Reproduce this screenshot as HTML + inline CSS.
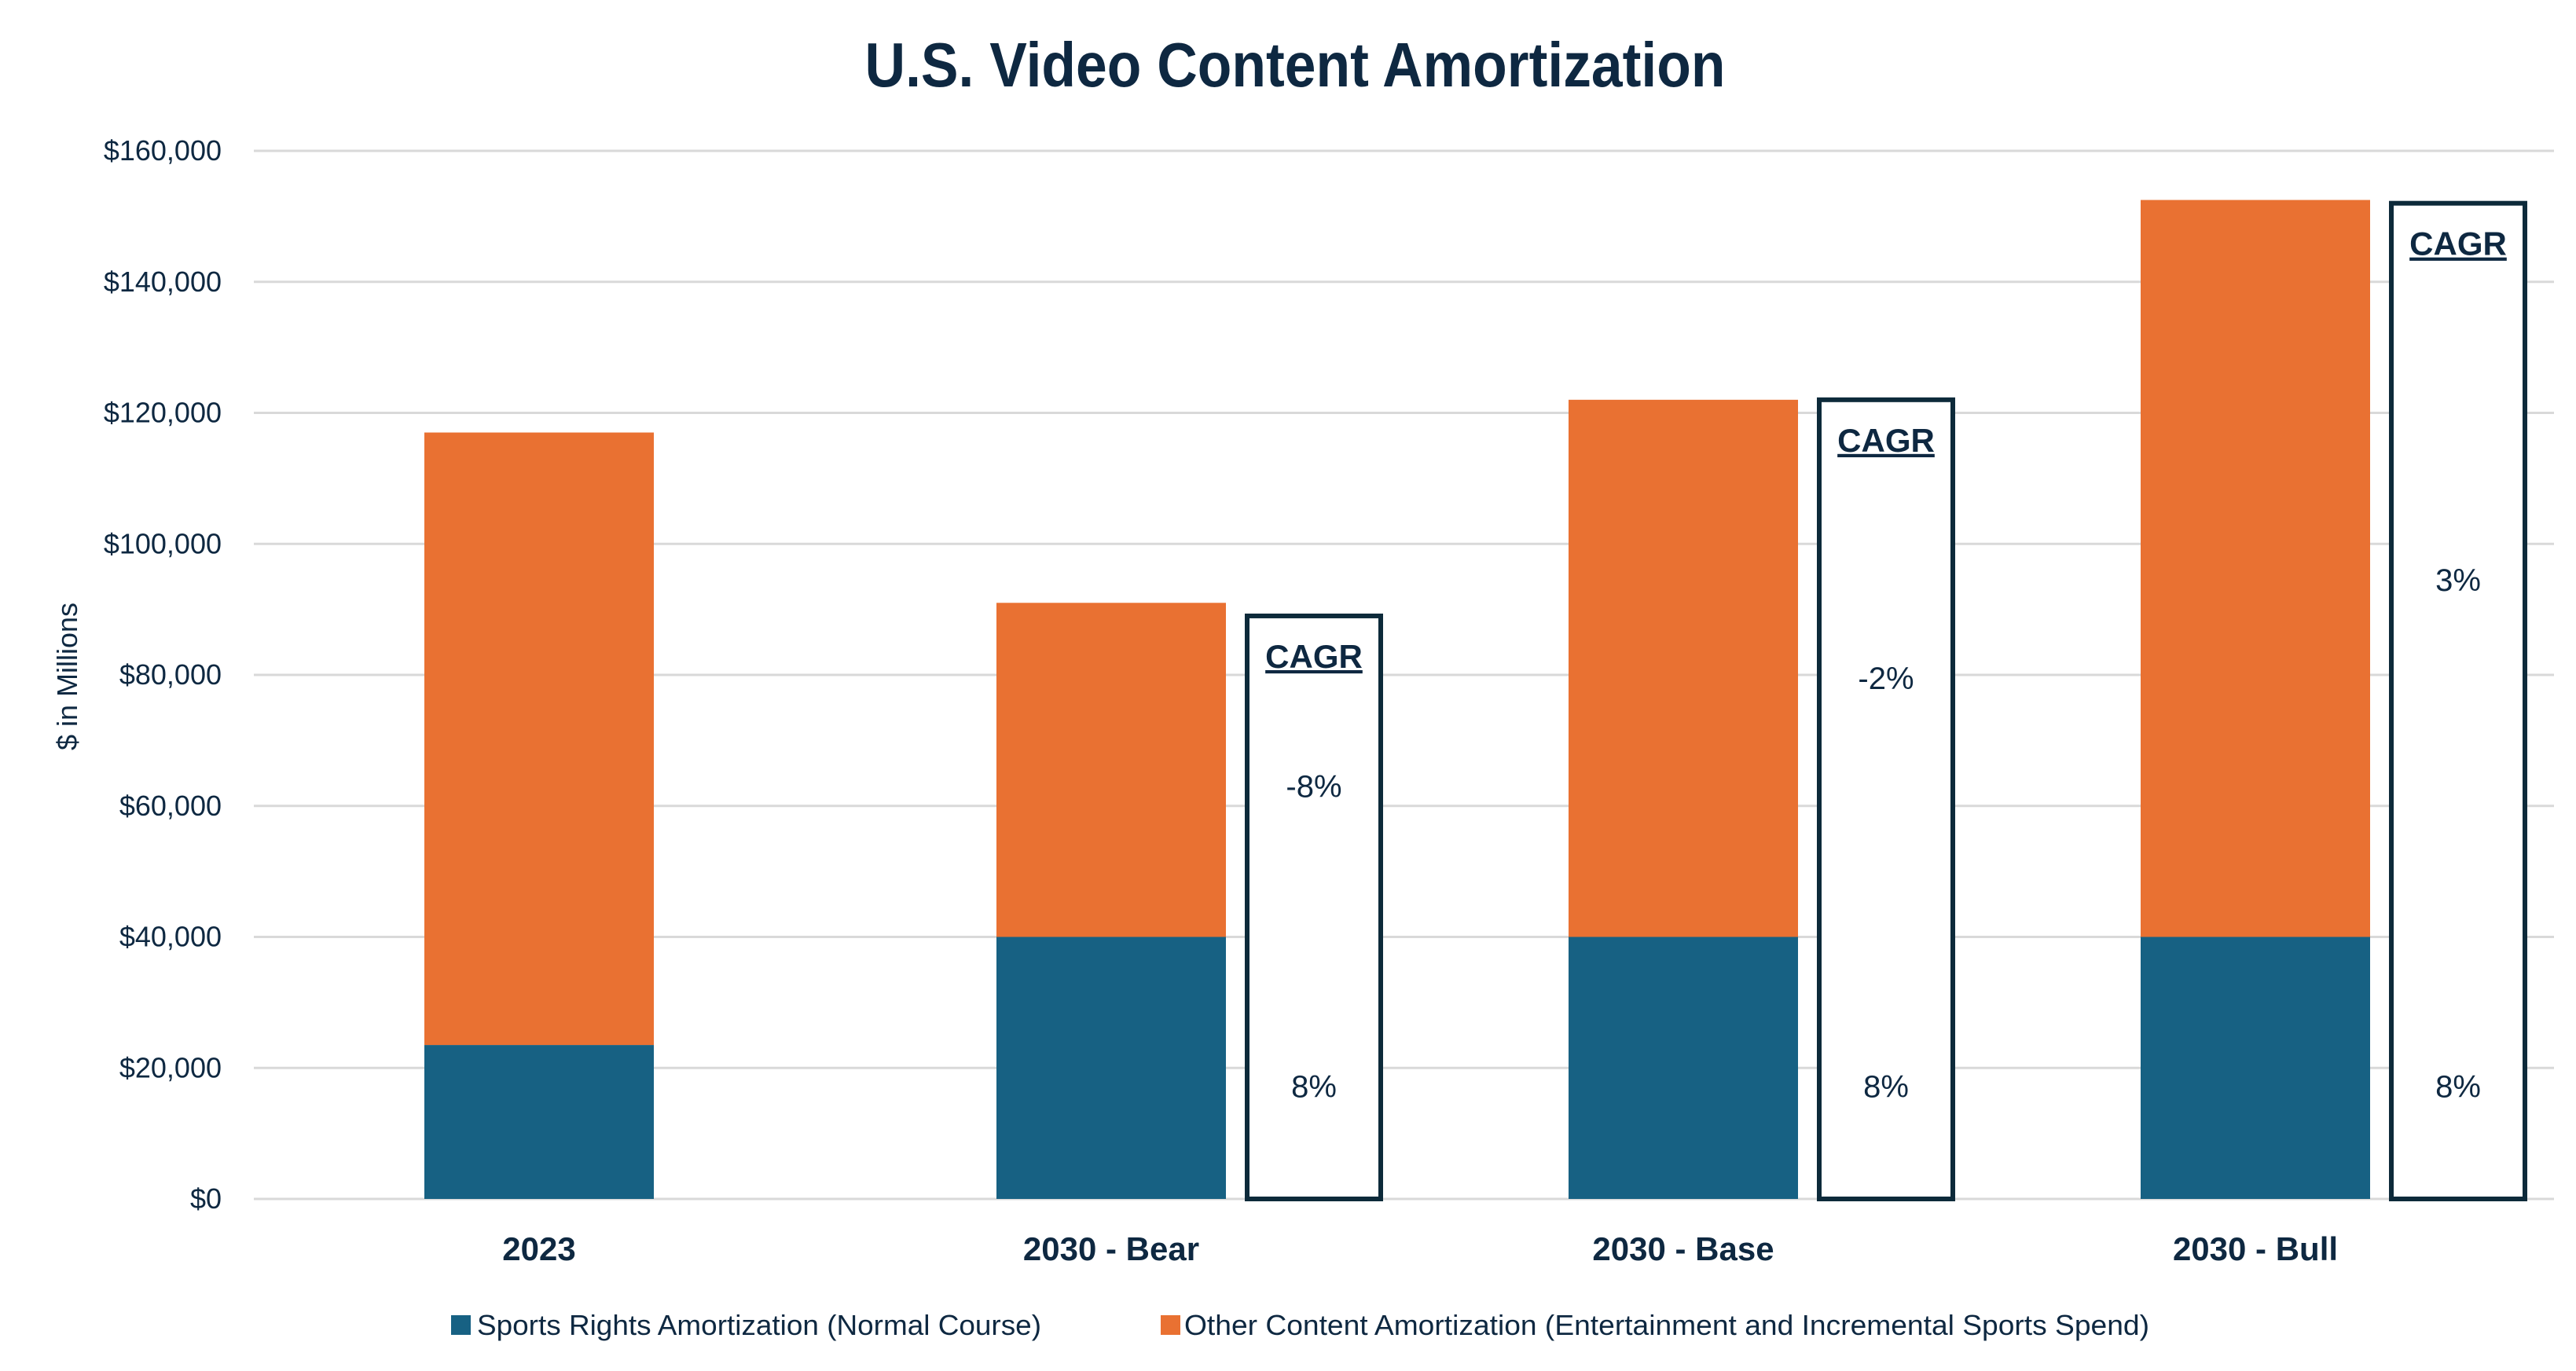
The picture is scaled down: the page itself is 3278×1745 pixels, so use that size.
<!DOCTYPE html>
<html><head><meta charset="utf-8"><style>
html,body{margin:0;padding:0;background:#fff;}
svg{display:block;}
text{font-family:"Liberation Sans Narrow","Liberation Sans",sans-serif;fill:#0e2841;}
</style></head><body>
<svg id="chart" width="3278" height="1745" viewBox="0 0 3278 1745">
<text x="1648" y="110" text-anchor="middle" font-size="80" font-weight="bold" textLength="1095" lengthAdjust="spacingAndGlyphs">U.S. Video Content Amortization</text>
<text transform="translate(98,861) rotate(-90)" text-anchor="middle" font-size="36" style="font-family:'Liberation Sans',sans-serif">$ in Millions</text>
<g id="grid"></g><g id="bars"></g><g id="boxes"></g><g id="xlabels"></g>
<g>
<rect x="574" y="1674" width="25" height="25" fill="#176183"/>
<text x="607" y="1699" font-size="36" textLength="718" lengthAdjust="spacingAndGlyphs">Sports Rights Amortization (Normal Course)</text>
<rect x="1477" y="1674" width="25" height="25" fill="#E97132"/>
<text x="1507" y="1699" font-size="36" textLength="1228" lengthAdjust="spacingAndGlyphs">Other Content Amortization (Entertainment and Incremental Sports Spend)</text>
</g>
</svg>
<script>
const categories = ["2023","2030 - Bear","2030 - Base","2030 - Bull"];
const sportsValues = [23500, 40000, 40000, 40000];
const otherValues = [93500, 51000, 82000, 112500];
const yTicks = [0,20000,40000,60000,80000,100000,120000,140000,160000];
const cagrTop = [null, 89000, 122000, 152000];
const cagrOther = [null, "-8%", "-2%", "3%"];
const cagrSports = [null, "8%", "8%", "8%"];

const NS="http://www.w3.org/2000/svg";
const y0=1526, yTop=192, yMax=160000;
const y=v=>y0-(v/yMax)*(y0-yTop);
const catW=728, firstX=686;
const xc=i=>firstX+i*catW;
const barW=292;
function mk(tag,attrs,parent,txt){const e=document.createElementNS(NS,tag);for(const k in attrs)e.setAttribute(k,attrs[k]);if(txt!=null)e.textContent=txt;document.getElementById(parent).appendChild(e);return e;}

yTicks.forEach(t=>{
  const l=mk('line',{x1:323,x2:3250,y1:y(t),y2:y(t),stroke:'#d9d9d9','stroke-width':3},'grid');
  
  
  const tx=mk('text',{x:282,y:y(t)+12,'text-anchor':'end','font-size':36},'grid','$'+t.toLocaleString('en-US'));
  
  
});
categories.forEach((c,i)=>{
  const x=xc(i)-barW/2;
  const s=mk('rect',{x:x,y:y(sportsValues[i]),width:barW,height:y0-y(sportsValues[i]),fill:'#176183'},'bars');
  
  
  const tot=sportsValues[i]+otherValues[i];
  const o=mk('rect',{x:x,y:y(tot),width:barW,height:y(sportsValues[i])-y(tot),fill:'#E97132'},'bars');
  
  
  const lb=mk('text',{x:xc(i),y:1604,'text-anchor':'middle','font-size':42,'font-weight':'bold'},'xlabels',c);
  
  
  if(cagrTop[i]!=null){
    const bx=xc(i)+barW/2+27, bw=170;
    const r=mk('rect',{x:bx,y:y(cagrTop[i]),width:bw,height:y0-y(cagrTop[i]),fill:'#fff',stroke:'#0d2a3a','stroke-width':6},'boxes');
    
    
    const cx=bx+bw/2, top=y(cagrTop[i]);
    const h=mk('text',{x:cx,y:top+66,'text-anchor':'middle','font-size':42,'font-weight':'bold','text-decoration':'underline'},'boxes','CAGR');
    
    
    const midOther=y((sportsValues[i]+cagrTop[i])/2 - 1500);
    const a=mk('text',{x:cx,y:midOther+14,'text-anchor':'middle','font-size':40},'boxes',cagrOther[i]);
    
    
    const b=mk('text',{x:cx,y:y(sportsValues[i]*0.43)+14,'text-anchor':'middle','font-size':40},'boxes',cagrSports[i]);
    
    
  }
});
</script>
</body></html>
